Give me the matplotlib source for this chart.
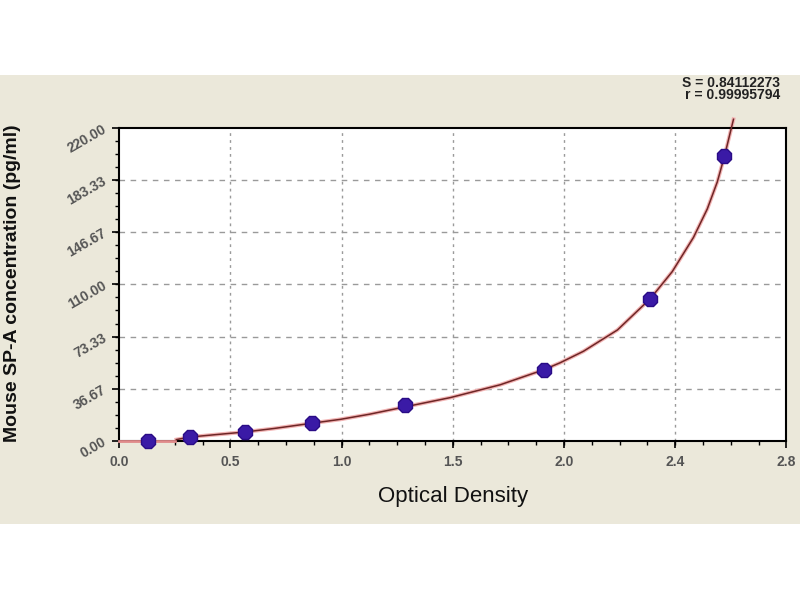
import matplotlib
matplotlib.use("Agg")
import matplotlib.pyplot as plt
from matplotlib.patches import Rectangle
from matplotlib.ticker import AutoMinorLocator, FixedLocator

# ---- data ----
od_points = [0.120, 0.298, 0.526, 0.809, 1.200, 1.781, 2.229, 2.540]
conc_points = [0.0, 3.12, 6.25, 12.5, 25.0, 50.0, 100.0, 200.0]

curve_od = [0.240, 0.298, 0.400, 0.526, 0.650, 0.809, 0.928, 1.050, 1.200,
            1.390, 1.599, 1.781, 1.851, 1.948, 2.091, 2.229, 2.321, 2.410,
            2.468, 2.510, 2.540, 2.578]
curve_conc = [1.0, 2.8, 4.4, 6.3, 8.8, 12.5, 15.2, 18.8, 24.0,
              30.5, 39.5, 50.0, 55.0, 63.0, 78.0, 100.0, 119.0, 143.0,
              163.0, 182.0, 200.0, 226.0]
flat_od = [0.0, 0.235]
flat_conc = [0.0, 0.0]

x_tick_values = [0.0, 0.4667, 0.9333, 1.4, 1.8667, 2.3333, 2.8]
x_tick_labels = ["0.0", "0.5", "1.0", "1.5", "2.0", "2.4", "2.8"]
y_tick_values = [0.0, 36.67, 73.33, 110.0, 146.67, 183.33, 220.0]
y_tick_labels = ["0.00", "36.67", "73.33", "110.00", "146.67", "183.33", "220.00"]

stats_lines = ["S = 0.84112273", "r = 0.99995794"]

plt.rcParams['font.family'] = ['Liberation Sans', 'DejaVu Sans']

fig = plt.figure(figsize=(8, 6), dpi=100)
fig.patch.set_facecolor('white')
bg = Rectangle((0, 0.1267), 1, 0.7483, transform=fig.transFigure,
               facecolor='#ebe8da', edgecolor='none', zorder=-10)
fig.add_artist(bg)

ax = fig.add_axes([0.149, 0.265, 0.834, 0.522], zorder=1)
ax.set_facecolor('white')
ax.set_xlim(0, 2.8)
ax.set_ylim(0, 220)

ax.xaxis.set_major_locator(FixedLocator(x_tick_values))
ax.yaxis.set_major_locator(FixedLocator(y_tick_values))
ax.xaxis.set_minor_locator(AutoMinorLocator(4))
ax.yaxis.set_minor_locator(AutoMinorLocator(4))
ax.set_xticklabels(x_tick_labels, fontsize=10, fontweight='bold', color='#555555')
ax.set_yticklabels(y_tick_labels, fontsize=10, fontweight='bold', color='#555555',
                   rotation=30, ha='right', va='center', rotation_mode='anchor')

ax.tick_params(which='major', direction='out', length=5, width=1.2, color='black')
ax.tick_params(which='minor', direction='out', length=3, width=1.0, color='black')
ax.tick_params(axis='y', pad=5)
ax.tick_params(axis='x', pad=5)

for s in ax.spines.values():
    s.set_linewidth(1.5)
    s.set_color('black')

# grid at interior majors
for yv in y_tick_values[1:-1]:
    ax.axhline(yv, color='#9a9a9a', lw=1.0, ls=(0, (4, 4)), zorder=1)
for xv in x_tick_values[1:-1]:
    ax.axvline(xv, color='#9a9a9a', lw=1.0, ls=(0, (2, 3)), zorder=1)

ax.plot(flat_od, flat_conc, color='#e08a8a', lw=2.0, zorder=3, clip_on=False)
ax.plot(curve_od, curve_conc, color='#f2b4b4', lw=2.8, zorder=2, clip_on=False)
ax.plot(curve_od, curve_conc, color='#6e2626', lw=1.1, zorder=3, clip_on=False)

ax.plot(od_points, conc_points, linestyle='none', marker='8', markersize=11,
        markerfacecolor='#3a1aa6', markeredgecolor='#2a0c86', markeredgewidth=1.0,
        zorder=4, clip_on=False)

ax.set_xlabel("Optical Density", fontsize=16, labelpad=12, color='#111111')
fig.text(0.016, 0.528, "Mouse SP-A concentration (pg/ml)", rotation=90,
         fontsize=14, fontweight='bold', ha='center', va='center', color='#111111')

fig.text(0.975, 0.862, stats_lines[0], ha='right', va='center', fontsize=10,
         fontweight='bold', color='#222222')
fig.text(0.975, 0.841, stats_lines[1], ha='right', va='center', fontsize=10,
         fontweight='bold', color='#222222')

fig.savefig("out.png", dpi=100, facecolor=fig.get_facecolor())
